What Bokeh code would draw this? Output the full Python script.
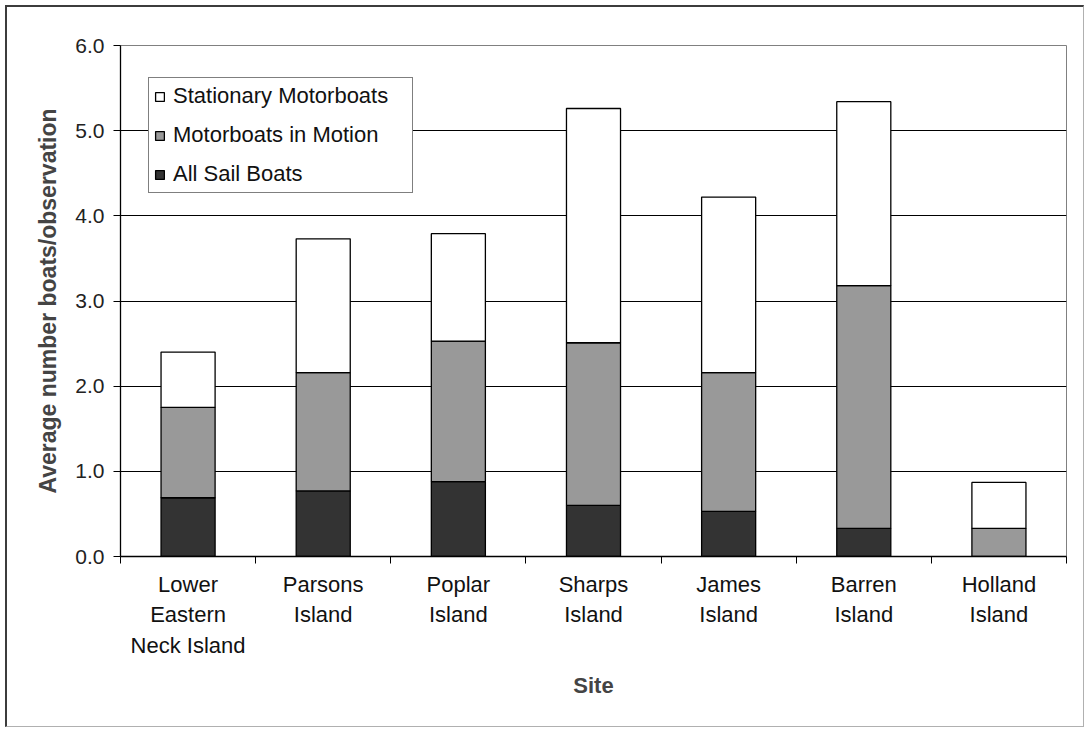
from bokeh.plotting import figure
from bokeh.models import (ColumnDataSource, FixedTicker, NumeralTickFormatter, Legend,
                          LegendItem, Range1d, Div)
from bokeh.layouts import column
from bokeh.embed import file_html
from bokeh.resources import INLINE

sites = ["Lower\nEastern\nNeck Island", "Parsons\nIsland", "Poplar\nIsland", "Sharps\nIsland",
         "James\nIsland", "Barren\nIsland", "Holland\nIsland"]
sail = [0.69, 0.77, 0.88, 0.60, 0.53, 0.33, 0.0]
motion = [1.06, 1.39, 1.65, 1.91, 1.63, 2.85, 0.33]
stationary = [0.65, 1.57, 1.26, 2.75, 2.06, 2.16, 0.54]
series_names = ["All Sail Boats", "Motorboats in Motion", "Stationary Motorboats"]
series_colors = ["#333333", "#999999", "#FFFFFF"]
y_ticks = [0, 1, 2, 3, 4, 5, 6]

FONT = "Liberation Sans"
xpos = list(range(1, len(sites) + 1))
src = ColumnDataSource(dict(x=xpos, sail=sail, motion=motion, stationary=stationary))

p = figure(width=1086, height=729, output_backend="svg", toolbar_location=None,
           x_range=Range1d(0.5, len(sites) + 0.5), y_range=Range1d(0, 6),
           min_border_left=120, min_border_right=20, min_border_top=45, min_border_bottom=173)
p.background_fill_color = "white"
p.border_fill_color = "white"
p.outline_line_color = "#808080"
p.outline_line_width = 1

renderers = p.vbar_stack(["sail", "motion", "stationary"], x="x", width=0.4, source=src,
                         fill_color=series_colors, line_color="black", line_width=1.3)

# grid
p.xgrid.grid_line_color = None
p.ygrid.grid_line_color = "black"
p.ygrid.grid_line_width = 1.2
p.ygrid.ticker = FixedTicker(ticks=y_ticks)

# y axis
p.yaxis.ticker = FixedTicker(ticks=y_ticks)
p.yaxis.formatter = NumeralTickFormatter(format="0.0")
p.yaxis.axis_line_color = "black"
p.yaxis.axis_line_width = 1.3
p.yaxis.major_tick_line_color = "black"
p.yaxis.major_tick_out = 7
p.yaxis.major_tick_in = 0
p.yaxis.minor_tick_line_color = None
p.yaxis.major_label_text_font = FONT
p.yaxis.major_label_text_font_size = "21px"
p.yaxis.major_label_text_color = "#222222"
p.yaxis.major_label_standoff = 9
p.yaxis.axis_label = "Average number boats/observation"
p.yaxis.axis_label_text_font = FONT
p.yaxis.axis_label_text_font_style = "bold"
p.yaxis.axis_label_text_font_size = "23px"
p.yaxis.axis_label_standoff = 11

# x axis: labels at centers, ticks at category boundaries (minor ticks)
p.xaxis.ticker = FixedTicker(ticks=xpos, minor_ticks=[i + 0.5 for i in range(0, len(sites) + 1)])
p.xaxis.major_label_overrides = {i: s for i, s in zip(xpos, sites)}
p.xaxis.axis_line_color = "black"
p.xaxis.axis_line_width = 1.3
p.xaxis.major_tick_line_color = None
p.xaxis.major_tick_out = 7
p.xaxis.minor_tick_line_color = "black"
p.xaxis.minor_tick_out = 7
p.xaxis.minor_tick_in = 0
p.xaxis.major_label_text_font = FONT
p.xaxis.major_label_text_font_size = "22px"
p.xaxis.major_label_text_line_height = 1.22
p.xaxis.major_label_text_color = "#111111"
p.xaxis.major_label_standoff = 8
p.xaxis.axis_label = "Site"
p.xaxis.axis_label_text_font = FONT
p.xaxis.axis_label_text_font_style = "bold"
p.xaxis.axis_label_text_font_size = "22px"
p.xaxis.axis_label_standoff = 12

# legend (top to bottom: Stationary, Motion, Sail)
items = [LegendItem(label=series_names[i], renderers=[renderers[i]]) for i in (2, 1, 0)]
legend = Legend(items=items, location=(28, 363))
legend.label_text_font = FONT
legend.label_text_font_size = "22px"
legend.label_text_color = "#111111"
legend.glyph_width = 11
legend.glyph_height = 11
legend.label_standoff = 8
legend.label_height = 20
legend.label_width = 234
legend.spacing = 13
legend.padding = 5
legend.margin = 0
legend.border_line_color = "black"
legend.border_line_width = 1.2
legend.background_fill_color = "white"
legend.background_fill_alpha = 1
p.add_layout(legend, "center")

# outer chart frame drawn as an overlay
frame_div = Div(text="", styles={"position": "absolute", "left": "0px", "top": "0px",
                                 "width": "1079px", "height": "722px",
                                 "border-left": "2px solid #3c3c3c",
                                 "border-top": "2px solid #3c3c3c",
                                 "border-right": "1px solid #b0b0b0",
                                 "border-bottom": "1px solid #b0b0b0",
                                 "box-sizing": "border-box",
                                 "pointer-events": "none", "z-index": "10"})
layout = column(p, frame_div, width=1086, height=729)

open("out.html", "w").write(file_html(layout, INLINE))
